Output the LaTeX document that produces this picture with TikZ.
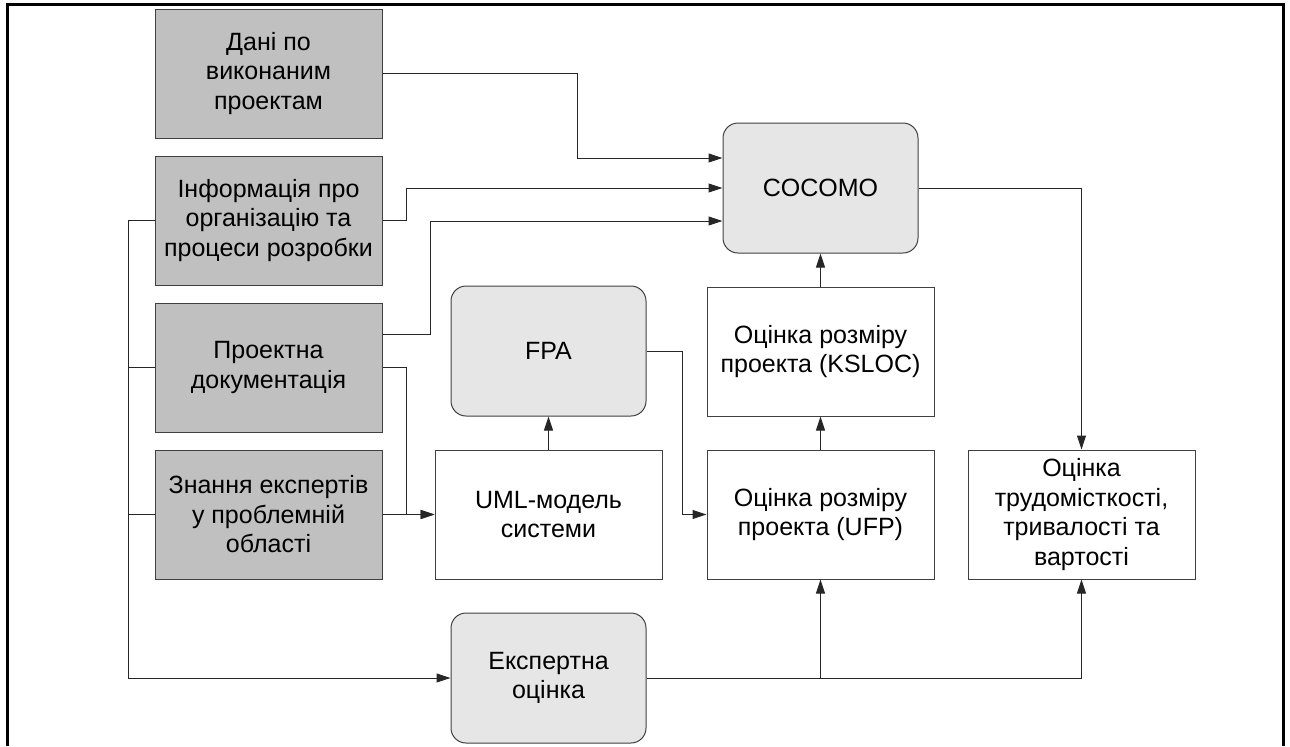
\documentclass[tikz,border=0pt]{standalone}
\usepackage{fontspec}
\setmainfont{Liberation Sans}
\usepackage{xcolor}
\usetikzlibrary{arrows.meta, positioning}

\definecolor{srcgray}{HTML}{C0C0C0}
\definecolor{methgray}{HTML}{E6E6E6}

\begin{document}
\begin{tikzpicture}[
  node distance=16.5pt and 22pt,
  every node/.style={font=\fontsize{12.5pt}{14.75pt}\selectfont},
  source/.style={rectangle, draw=black!75, fill=srcgray, line width=0.5pt,
    minimum width=113.5pt, minimum height=64.5pt, align=center, inner sep=2pt},
  result/.style={rectangle, draw=black!75, fill=white, line width=0.5pt,
    minimum width=113.5pt, minimum height=64.5pt, align=center, inner sep=2pt},
  method/.style={rectangle, rounded corners=7.5pt, draw=black!75, fill=methgray,
    line width=0.5pt, minimum width=97.5pt, minimum height=65pt, align=center},
  flow/.style={-{Triangle[length=7pt, width=4.5pt]}, draw=black!85, line width=0.5pt},
  wire/.style={draw=black!85, line width=0.5pt},
]
  \useasboundingbox (0,0) rectangle (645pt,-373pt);
  \draw[line width=1.5pt] (3.5pt,-373pt) -- (3.5pt,-2pt) -- (641.5pt,-2pt) -- (641.5pt,-373pt);

  % input data
  \node[source] (dani) at (134.25pt,-36.75pt) {Дані по\\виконаним\\проектам};
  \node[source, below=8.5pt of dani] (info) {Інформація про\\організацію та\\процеси розробки};
  \node[source, below=8.5pt of info] (docs) {Проектна\\документація};
  \node[source, below=8.5pt of docs] (experts) {Знання експертів\\у проблемній\\області};

  % methods and results
  \node[result, right=26pt of experts] (uml) {UML-модель\\системи};
  \node[method, above=of uml] (fpa) {FPA};
  \node[method, below=of uml] (expert) {Експертна\\оцінка};
  \node[result, right=of uml] (ufp) {Оцінка розміру\\проекта (UFP)};
  \node[result, above=of ufp] (ksloc) {Оцінка розміру\\проекта (KSLOC)};
  \node[method, above=of ksloc] (cocomo) {COCOMO};
  \node[result, right=16.5pt of ufp] (effort) {Оцінка\\трудомісткості,\\тривалості та\\вартості};

  % inputs of COCOMO
  \draw[flow] (dani.east) -- ++(97.5pt,0) |- ([yshift=15pt]cocomo.west);
  \draw[flow] (info.east) -- ++(12pt,0) |- (cocomo.west);
  \draw[flow] ([yshift=16.5pt]docs.east) -- ++(24pt,0) |- ([yshift=-16.5pt]cocomo.west);

  % UML and size estimates
  \draw[flow] (docs.east) -- ++(12pt,0) |- (uml.west);
  \draw[flow] (experts) -- (uml);
  \draw[flow] (uml) -- (fpa);
  \draw[flow] (fpa.east) -- ++(18pt,0) |- (ufp.west);
  \draw[flow] (ufp) -- (ksloc);
  \draw[flow] (ksloc) -- (cocomo);
  \draw[flow] (cocomo.east) -| (effort.north);

  % expert estimate
  \draw[flow] (info.west) -- ++(-13pt,0) |- (expert.west);
  \draw[wire] (docs.west) -- ++(-13pt,0);
  \draw[wire] (experts.west) -- ++(-13pt,0);
  \draw[flow] (expert.east) -| (effort.south);
  \coordinate (fork) at (expert.east -| ufp.south);
  \draw[flow] (fork) -- (ufp.south);
\end{tikzpicture}
\end{document}
